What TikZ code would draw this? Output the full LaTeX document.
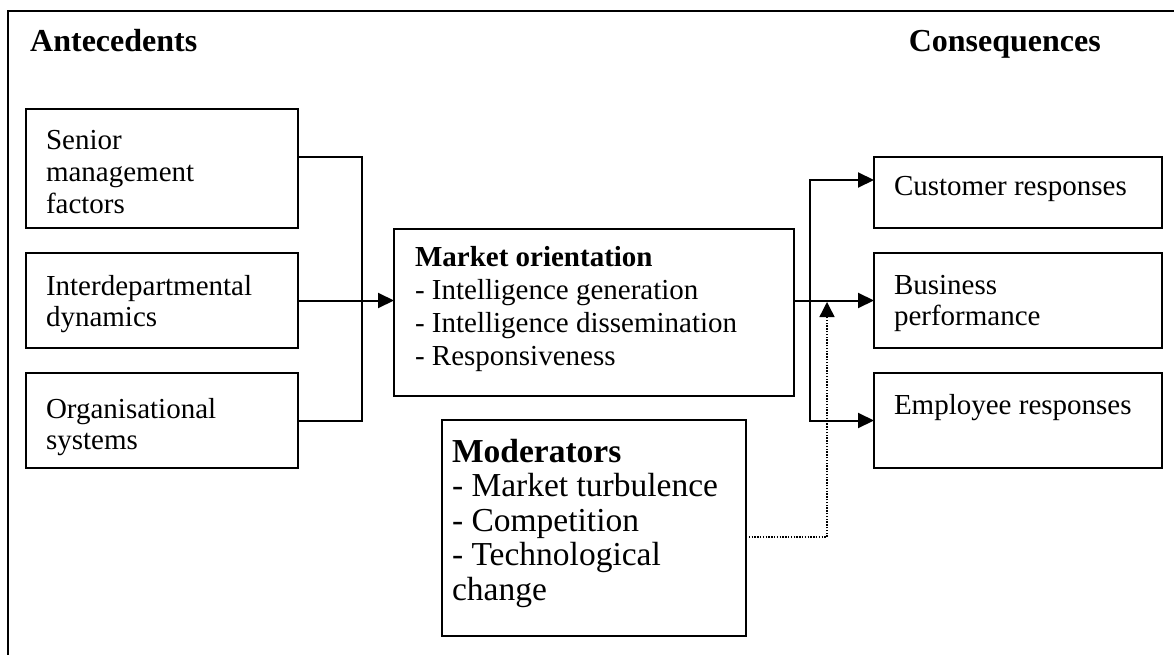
\documentclass[tikz,border=0pt]{standalone}
\usepackage{fontspec}
\setmainfont{Liberation Serif}
\usetikzlibrary{arrows.meta}

% strut that fixes the height of the first line of a text block
\newcommand\firstline[1]{\rule{0pt}{#1}}

\begin{document}
\begin{tikzpicture}[x=1pt,y=-1pt,
  frame/.style={line width=2.4pt},
  box/.style={draw, line width=2pt, inner sep=0pt, outer sep=0pt, anchor=north west},
  txt/.style={anchor=north west, inner sep=0pt, outer sep=0pt, align=left,
              font=\fontsize{29}{31.5}\selectfont},
  motxt/.style={txt, font=\fontsize{29}{33.3}\selectfont},
  modtxt/.style={txt, font=\fontsize{33.5}{34.5}\selectfont},
  head/.style={inner sep=0pt, font=\bfseries\fontsize{32}{32}\selectfont},
  conn/.style={line width=2pt},
  arr/.style={conn, -{Triangle[length=16pt,width=15pt]}},
  dotarr/.style={line width=1.4pt, dash pattern=on 1.4pt off 1.4pt,
                 -{Triangle[length=15pt,width=15pt]}}
]
\useasboundingbox (0,0) rectangle (1174,655);

% outer frame (top and left edges)
\draw[frame] (8,655) -- (8,11) -- (1174,11);

% headings
\node[head, anchor=base west] (ante) at (30,52) {Antecedents};
\node[head, anchor=base east] (cons) at (1101,52) {Consequences};

% antecedent boxes
\node[box, minimum width=272pt, minimum height=119pt] (sen)   at (26,109) {};
\node[box, minimum width=272pt, minimum height=95pt]  (inter) at (26,253) {};
\node[box, minimum width=272pt, minimum height=95pt]  (org)   at (26,373) {};
\node[txt] (sen-t)   at (46,126) {\firstline{24pt}Senior\\management\\factors};
\node[txt] (inter-t) at (46,271) {\firstline{24pt}Interdepartmental\\dynamics};
\node[txt] (org-t)   at (46,394) {\firstline{24pt}Organisational\\systems};

% central construct
\node[box, minimum width=400pt, minimum height=167pt] (mo) at (394,229) {};
\node[motxt] (mo-t) at (415,242) {\firstline{24pt}\textbf{Market orientation}\\- Intelligence generation\\- Intelligence dissemination\\- Responsiveness};

% moderators
\node[box, minimum width=304pt, minimum height=216pt] (mod) at (442,420) {};
\node[modtxt] (mod-t) at (452,434) {\firstline{28pt}\textbf{Moderators}\\- Market turbulence\\- Competition\\- Technological\\change};

% consequence boxes
\node[box, minimum width=288pt, minimum height=71pt] (cust) at (874,157) {};
\node[box, minimum width=288pt, minimum height=95pt] (bus)  at (874,253) {};
\node[box, minimum width=288pt, minimum height=95pt] (emp)  at (874,373) {};
\node[txt] (cust-t) at (894,172) {\firstline{24pt}Customer responses};
\node[txt] (bus-t)  at (894,270) {\firstline{24pt}Business\\performance};
\node[txt] (emp-t)  at (894,390) {\firstline{24pt}Employee responses};

% junction lines
\coordinate (jl) at (362,0);
\coordinate (jr) at (810,0);
\coordinate (dx) at (827,537);

% antecedents -> market orientation
\draw[conn] ([yshift=11.5pt]sen.east) -| (jl |- org.east) -- (org.east);
\draw[arr] (inter.east) -- (mo.west |- inter.east);

% market orientation -> consequences
\draw[arr] (mo.east |- bus.west) -- (bus.west);
\draw[arr] (jr |- bus.west) |- ([yshift=12.5pt]cust.west);
\draw[arr] (jr |- bus.west) |- (emp.west);

% moderating effect
\draw[dotarr] (mod.east |- dx) -- (dx) -- ([yshift=-1.5pt]dx |- bus.west);
\end{tikzpicture}
\end{document}
